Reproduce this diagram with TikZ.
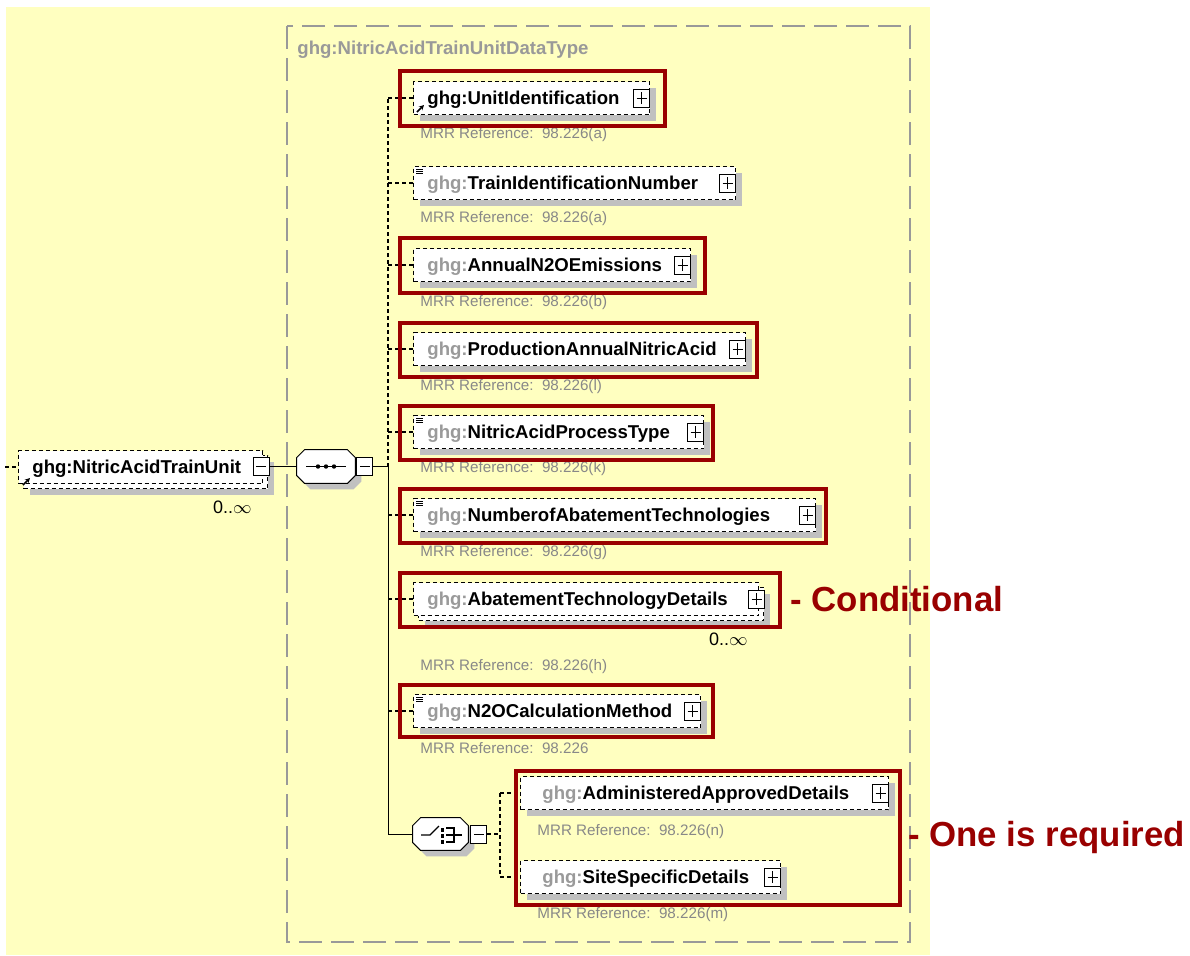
\documentclass[tikz,border=0pt]{standalone}
\usepackage{fontspec}
\setmainfont{Liberation Sans}
\usetikzlibrary{shadows,calc,arrows.meta}
\definecolor{bgyellow}{HTML}{FFFFC0}
\definecolor{hlred}{HTML}{990000}
\definecolor{shgray}{HTML}{C0C0C0}
\definecolor{pregray}{HTML}{9A9A9A}
\definecolor{mrrgray}{HTML}{888888}
\definecolor{framegray}{HTML}{999999}
\tikzset{
  dsh/.style={line width=0.55pt, dash pattern=on 2pt off 1.5pt},
  elbox/.style={draw=black, line width=0.5pt, dash pattern=on 2pt off 1.5pt, fill=white,
    anchor=west, minimum height=16.5pt, inner sep=0pt,
    drop shadow={shadow xshift=3pt, shadow yshift=-3pt, fill=shgray, opacity=1}},
  elboxns/.style={draw=black, line width=0.5pt, dash pattern=on 2pt off 1.5pt, fill=white,
    anchor=west, minimum height=16.5pt, inner sep=0pt},
  pbox/.style={draw=black, solid, line width=0.5pt, fill=white, minimum width=8pt,
    minimum height=9pt, inner sep=0pt,
    path picture={\draw[line width=0.5pt] ([xshift=1.5pt]path picture bounding box.west) -- ([xshift=-1.5pt]path picture bounding box.east);
      \draw[line width=0.5pt] ([yshift=-1.5pt]path picture bounding box.north) -- ([yshift=1.5pt]path picture bounding box.south);}},
  mbox/.style={draw=black, solid, line width=0.5pt, fill=white, minimum width=8pt,
    minimum height=9pt, inner sep=0pt,
    path picture={\draw[line width=0.5pt] ([xshift=1.5pt]path picture bounding box.west) -- ([xshift=-1.5pt]path picture bounding box.east);}},
  eltext/.style={anchor=base west, inner sep=0pt, font=\fontsize{9.3}{11}\selectfont\bfseries},
  mrr/.style={anchor=base west, inner sep=0pt, text=mrrgray, font=\fontsize{7.6}{9}\selectfont},
  occ/.style={anchor=base east, inner sep=0pt, font=\fontsize{9}{10}\selectfont},
  hl/.style={draw=hlred, line width=2pt},
  hltext/.style={anchor=base west, inner sep=0pt, text=hlred, font=\fontsize{17.4}{20}\selectfont\bfseries},
  octbox/.style={draw=none, inner sep=0pt},
}
\newcommand\gp[1]{\textcolor{pregray}{#1}}
\newcommand\xel[4]{%
  \node[elbox, minimum width={(#3-#2)*0.5pt}] (#1) at (#2,#4) {};
  \node[pbox, anchor=east] (#1p) at (#1.east) {};
}
\newcommand\eqicon[1]{%
  \draw[line width=0.5pt] ([shift={(3,3)}]#1.north west) -- ++(7,0);
  \draw[line width=0.5pt] ([shift={(3,5)}]#1.north west) -- ++(7,0);
  \draw[line width=0.5pt] ([shift={(3,7)}]#1.north west) -- ++(7,0);
}
\newcommand\octpath[4]{($(#1.north west)+(#2+#3,#4)$) -- ($(#1.north east)+(-#2+#3,#4)$) -- ($(#1.north east)+(#3,#2+#4)$) -- ($(#1.south east)+(#3,-#2+#4)$) -- ($(#1.south east)+(-#2+#3,#4)$) -- ($(#1.south west)+(#2+#3,#4)$) -- ($(#1.south west)+(#3,-#2+#4)$) -- ($(#1.north west)+(#3,#2+#4)$) -- cycle}
\newcommand\drawoct[1]{%
  \fill[shgray] \octpath{#1}{8}{6}{6};
  \draw[line width=0.5pt, fill=white] \octpath{#1}{8}{0}{0};
}
\begin{document}
\begin{tikzpicture}[x=0.5pt,y=-0.5pt]
\useasboundingbox (0,0) rectangle (1190,955);
\fill[white] (0,0) rectangle (1190,955);
\fill[bgyellow] (6,7) rectangle (930,955);
\draw[framegray, line width=0.7pt, dash pattern=on 11.5pt off 4.5pt] (287,26) rectangle (910,942);
\node[anchor=base west, inner sep=0pt, text=framegray, font=\fontsize{9.3}{11}\selectfont\bfseries] (title) at (297,54.5) {ghg:NitricAcidTrainUnitDataType};

% connector points
\coordinate (rin) at (5,467);
\coordinate (bus) at (388,466.5);
\coordinate (cbus) at (500,834);

% root element
\node[elbox, minimum width=122pt, minimum height=16.5pt] (r0b) at (23,472) {};
\node[elboxns, minimum width=122pt, minimum height=16.5pt] (r0) at (18,467) {};
\node[mbox] (r0m) at (261,466.5) {};
\node[eltext] (r0t) at (32,473) {ghg:NitricAcidTrainUnit};
\draw[-{Stealth[length=2.5pt,width=2.5pt]}, line width=0.8pt] (23,485) -- (30,478);
\node[occ] (r0o) at (252,513) {0..\(\infty\)};
\draw[dsh] (rin) -- (r0.west);

% sequence
\node[octbox, minimum width=29pt, minimum height=16.5pt] (seq) at (326,466.5) {};
\drawoct{seq}
\draw[line width=0.6pt] (306,466.5) -- (346,466.5);
\foreach \xx in {318,326,334} \fill (\xx,466.5) circle (2.2);
\node[mbox, anchor=west] (seqm) at ([xshift=0.5pt]seq.east) {};
\draw[line width=0.5pt] (r0m.east) -- (seq.west);
\draw[line width=0.5pt] (seqm.east) -- (bus);

% children
\xel{u1}{413}{649}{98}
\xel{u2}{413}{735}{183}
\xel{u3}{413}{690}{265}
\xel{u4}{413}{745}{349}
\xel{u5}{413}{703}{432}
\xel{u6}{413}{815}{515}
\node[elbox, minimum width=172.5pt] (u7b) at (418,604) {};
\node[elboxns, minimum width=172.5pt] (u7) at (413,599) {};
\node[pbox, anchor=east] (u7p) at (765,599) {};
\xel{u8}{413}{700}{711}

\draw[-{Stealth[length=2.5pt,width=2.5pt]}, line width=0.8pt] (417,112) -- (424,105);
\eqicon{u2}
\eqicon{u5}
\eqicon{u6}
\eqicon{u8}

\node[eltext] (u1t) at (427,104) {ghg:UnitIdentification};
\node[eltext] (u2t) at (427,189) {\gp{ghg:}TrainIdentificationNumber};
\node[eltext] (u3t) at (427,271) {\gp{ghg:}AnnualN2OEmissions};
\node[eltext] (u4t) at (427,355) {\gp{ghg:}ProductionAnnualNitricAcid};
\node[eltext] (u5t) at (427,438) {\gp{ghg:}NitricAcidProcessType};
\node[eltext] (u6t) at (427,521) {\gp{ghg:}NumberofAbatementTechnologies};
\node[eltext] (u7t) at (427,605) {\gp{ghg:}AbatementTechnologyDetails};
\node[eltext] (u8t) at (427,717) {\gp{ghg:}N2OCalculationMethod};
\node[occ] (u7o) at (748,645) {0..\(\infty\)};

\node[mrr] (m1) at (420,138) {MRR Reference:\ \ 98.226(a)};
\node[mrr] (m2) at (420,222) {MRR Reference:\ \ 98.226(a)};
\node[mrr] (m3) at (420,306) {MRR Reference:\ \ 98.226(b)};
\node[mrr] (m4) at (420,390) {MRR Reference:\ \ 98.226(l)};
\node[mrr] (m5) at (420,472) {MRR Reference:\ \ 98.226(k)};
\node[mrr] (m6) at (420,556) {MRR Reference:\ \ 98.226(g)};
\node[mrr] (m7) at (420,670) {MRR Reference:\ \ 98.226(h)};
\node[mrr] (m8) at (420,753) {MRR Reference:\ \ 98.226};

% choice
\node[octbox, minimum width=27.5pt, minimum height=16pt] (ch) at (440.5,834) {};
\drawoct{ch}
\draw[line width=0.6pt] (421,835) -- (430,835) -- (439,826);
\foreach \yy in {828,834,840} \fill (441,\yy) rectangle +(3,3.5);
\draw[line width=0.6pt] (446,828) -- (454,828) -- (454,842) -- (446,842);
\draw[line width=0.6pt] (446,835) -- (462,835);
\node[mbox, anchor=west] (chm) at ([xshift=1pt]ch.east) {};

\xel{c1}{520}{888}{793}
\xel{c2}{520}{780}{877}
\node[eltext] (c1t) at (542,799) {\gp{ghg:}AdministeredApprovedDetails};
\node[eltext] (c2t) at (542,883) {\gp{ghg:}SiteSpecificDetails};
\node[mrr] (m9) at (537,835) {MRR Reference:\ \ 98.226(n)};
\node[mrr] (m10) at (537,918) {MRR Reference:\ \ 98.226(m)};

% bus lines
\draw[dsh] (bus) -- (bus |- u1.west);
\draw[line width=0.5pt] (bus) -- (bus |- ch.west) -- (ch.west);
\foreach \n in {u1,u2,u3,u4,u5,u6,u7,u8} \draw[dsh] (bus |- \n.west) -- (\n.west);
\draw[dsh] (chm.east) -- (cbus);
\draw[dsh] (cbus |- c1.west) -- (cbus |- c2.west);
\draw[dsh] (cbus |- c1.west) -- (c1.west);
\draw[dsh] (cbus |- c2.west) -- (c2.west);

% highlight frames
\draw[hl] (400,71) rectangle (665,126);
\draw[hl] (400,238) rectangle (705,293);
\draw[hl] (400,323) rectangle (757,377);
\draw[hl] (400,406) rectangle (713,460);
\draw[hl] (400,489) rectangle (826,543);
\draw[hl] (400,573) rectangle (780,627);
\draw[hl] (400,685) rectangle (713,737);
\draw[hl] (516,771) rectangle (900,905);
\node[hltext] (cond) at (790,611) {- Conditional};
\node[hltext] (req) at (908,846) {- One is required};
\end{tikzpicture}
\end{document}
